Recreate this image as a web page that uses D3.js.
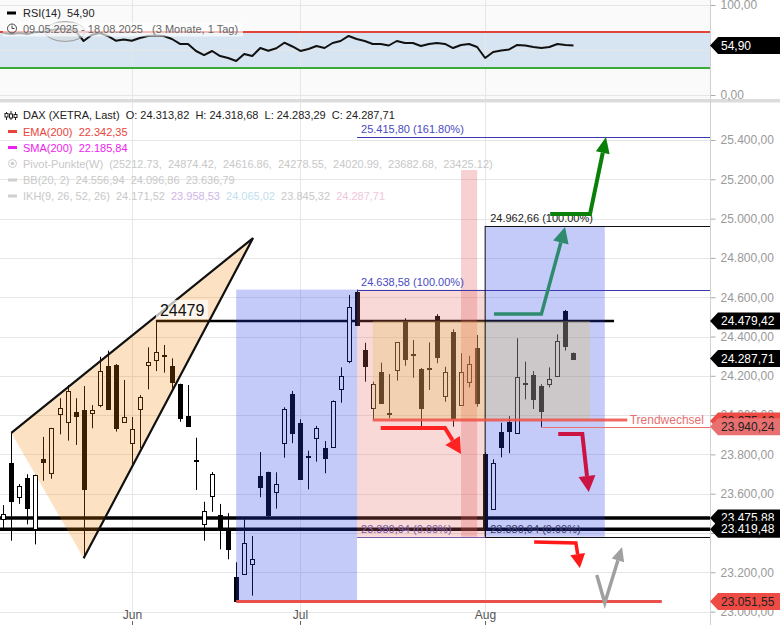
<!DOCTYPE html>
<html><head><meta charset="utf-8">
<script src="https://cdn.jsdelivr.net/npm/d3@7"></script>
<style>body{margin:0;background:#fff;}svg{display:block;font-family:"Liberation Sans",Arial,sans-serif;}text{white-space:pre;}</style>
</head><body><svg id="c" width="780" height="625"></svg>
<script>
const dates=["2025-05-09","2025-05-12","2025-05-13","2025-05-14","2025-05-15","2025-05-16","2025-05-19","2025-05-20","2025-05-21","2025-05-22","2025-05-23","2025-05-26","2025-05-27","2025-05-28","2025-05-29","2025-05-30",
"2025-06-02","2025-06-03","2025-06-04","2025-06-05","2025-06-06","2025-06-09","2025-06-10","2025-06-11","2025-06-12","2025-06-13","2025-06-16","2025-06-17","2025-06-18","2025-06-19","2025-06-20","2025-06-23","2025-06-24","2025-06-25","2025-06-26","2025-06-27","2025-06-30",
"2025-07-01","2025-07-02","2025-07-03","2025-07-04","2025-07-07","2025-07-08","2025-07-09","2025-07-10","2025-07-11","2025-07-14","2025-07-15","2025-07-16","2025-07-17","2025-07-18","2025-07-21","2025-07-22","2025-07-23","2025-07-24","2025-07-25","2025-07-28","2025-07-29","2025-07-30","2025-07-31",
"2025-08-01","2025-08-04","2025-08-05","2025-08-06","2025-08-07","2025-08-08","2025-08-11","2025-08-12","2025-08-13","2025-08-14","2025-08-15","2025-08-18"];
const open =[23471,23755,23582,23678,23422,23777,23704,24004,23963,24017,24026,24009,24050,24250,24255,23963,23860,24030,24253,24279,24306,24250,24158,23995,23772,23444,23588,23492,23415,23178,23193,23241,23690,23709,23607,23860,24106,23961,23790,23882,23831,23840,24131,24277,24626,24331,24035,24219,24012,24228,24475,24312,24235,24242,24504,24097,24421,24051,24167,24340,23800,23521,23913,23963,23908,24165,24204,24148,24157,24201,24530,24313.82];
const high =[23542,23910,23649,23699,23697,23889,23935,24086,24153,24086,24148,24051,24297,24328,24260,24179,23990,24102,24345,24479,24357,24289,24160,24153,23885,23559,23710,23548,23501,23251,23470,23385,23812,23712,23709,24040,24123,23979,23819,23945,23868,24075,24243,24611,24638.58,24368,24170,24267,24209,24372,24493,24382,24240,24370,24514,24246,24437,24315,24302,24408,23810,23775,23961,23995,24391,24272,24224,24157,24243,24411,24535,24318.68];
const low  =[23415,23361,23548,23444,23342,23666,23676,23902,23870,23848,23271,23933,24040,24030,23916,23960,23736,23831,24131,24224,24216,24136,23966,23944,23619,23361,23508,23317,23266,23051.55,23186,23081,23582,23480,23524,23783,23857,23670,23622,23763,23704,23837,24063,24264,24453,24170,23979,24058,23984,24175,24251,24190,23924,24128,24264,24068,23941,24050,24141,24043,23380.94,23519,23785,23806,23904,24080,24031,23940.24,24141,24200,24328,24283.29];
const close=[23497,23564,23639,23526,23694,23763,23933,24035,24123,23997,23625,24026,24223,24033,23933,23992,23928,24091,24272,24320,24300,24170,23984,23946,23766,23513,23700,23432,23317,23056,23348,23266,23636,23492,23648,24030,23908,23673,23785,23933,23783,24072,24201,24549,24459,24251,24157,24060,24008,24370,24287,24306,24038,24238,24294,24218,23984,24218,24259,24063,23426,23755,23839,23921,24192,24162,24080,24022,24183,24377,24353,24287.71];
const rsi=[68.9,67.8,68.9,67.8,70,70,72.2,73.3,73.3,71.1,60,66.7,68.9,65.6,60.3,61.7,60.3,63.3,65.6,66.1,65.6,62.2,56.7,56.7,48.9,44.4,48.9,43.3,41.1,37.8,45.6,43.3,52.2,49.2,51.9,58.1,53.9,48.9,51.1,54.4,52.2,57.8,60,65.6,62.2,60,56.7,56.7,55,60,57.8,57.8,54.4,56.7,57.8,56.7,52.2,55.6,56.7,53.3,41.1,47.8,49.4,50.6,55.6,55,53.3,52.2,53.3,56.7,55.6,54.9];
const priceTicks=[23000,23200,23400,23600,23800,24000,24200,24400,24600,24800,25000,25200,25400];
const rsiTicks=[0,100];
const rsiGrid=[0,50,100];
const monthNames=["Jun","Jul","Aug"];
const levels={res:24479.42,last:24287.71,trend:23975.12,trendLow:23940.24,sup1:23475.88,sup2:23419.48,low:23051.55};
const fib1=[{v:25415.80,p:"161.80%"},{v:24638.58,p:"100.00%"},{v:23380.94,p:"0.00%"}];
const fib2=[{v:24962.66,p:"100.00%"},{v:23380.94,p:"0.00%"}];

const loc=d3.formatLocale({decimal:",",thousands:".",grouping:[3],currency:["",""]});
const fmt=loc.format(",.2f");
const svg=d3.select("#c");
const AX=710;
const x=d3.scaleLinear().domain([0,88]).range([3.3,710]);
const y=d3.scaleLinear().domain([23000,25400]).range([611.6,140]);
const yr=d3.scaleLinear().domain([0,100]).range([95,5]);
const X=i=>x(i), Y=v=>y(v);

// backgrounds
svg.append("rect").attr("x",0).attr("y",0).attr("width",AX).attr("height",99).attr("fill","#fafafa");
svg.append("rect").attr("x",0).attr("y",yr(70)).attr("width",AX).attr("height",yr(30)-yr(70)).attr("fill","#d7e4f1");
svg.append("rect").attr("x",0).attr("y",99).attr("width",780).attr("height",3.5).attr("fill","#dcdcdc");

// grids
const grid=svg.append("g").attr("stroke","#e6e6e6").attr("stroke-width",1);
rsiGrid.forEach(v=>grid.append("line").attr("x1",0).attr("x2",AX).attr("y1",Math.round(yr(v))+0.5).attr("y2",Math.round(yr(v))+0.5));
priceTicks.forEach(v=>grid.append("line").attr("x1",0).attr("x2",AX).attr("y1",Math.round(Y(v))+0.5).attr("y2",Math.round(Y(v))+0.5));
const monthIdx=[];
dates.forEach((d,i)=>{ if(i>0 && d.slice(5,7)!==dates[i-1].slice(5,7)) monthIdx.push(i); });
monthIdx.forEach(i=>{const xx=Math.round(X(i))+0.5;
  grid.append("line").attr("x1",xx).attr("x2",xx).attr("y1",0).attr("y2",99);
  grid.append("line").attr("x1",xx).attr("x2",xx).attr("y1",103).attr("y2",612);});

// RSI pane
svg.append("line").attr("x1",0).attr("x2",AX).attr("y1",yr(70)).attr("y2",yr(70)).attr("stroke","#e0443a").attr("stroke-width",2);
svg.append("line").attr("x1",0).attr("x2",AX).attr("y1",yr(30)).attr("y2",yr(30)).attr("stroke","#3aab3a").attr("stroke-width",2);
svg.append("path").datum(rsi).attr("d",d3.line().x((d,i)=>X(i)).y(d=>yr(d))).attr("fill","none").attr("stroke","#111").attr("stroke-width",2).attr("stroke-linejoin","round");
svg.append("ellipse").attr("cx",X(7.7)).attr("cy",yr(70.5)).attr("rx",X(10.2)-X(7.7)).attr("ry",yr(60)-yr(71)).attr("fill","rgba(210,210,210,0.3)").attr("stroke","#999").attr("stroke-width",1);

// horizontal level lines (under overlays)
svg.append("line").attr("x1",0).attr("x2",AX).attr("y1",Y(levels.sup1)).attr("y2",Y(levels.sup1)).attr("stroke","#000").attr("stroke-width",3.5);
svg.append("line").attr("x1",0).attr("x2",AX).attr("y1",Y(levels.sup2)).attr("y2",Y(levels.sup2)).attr("stroke","#000").attr("stroke-width",3.5);
svg.append("line").attr("x1",X(19)).attr("x2",X(76.05)).attr("y1",Y(levels.res)).attr("y2",Y(levels.res)).attr("stroke","#000").attr("stroke-width",2.5);
svg.append("line").attr("x1",X(19)).attr("x2",X(19)).attr("y1",Y(levels.res)).attr("y2",Y(high[19])).attr("stroke","#000").attr("stroke-width",1);

// candles
const cg=svg.append("g");
dates.forEach((d,i)=>{
  const cx=Math.round(X(i))+0.5;
  cg.append("line").attr("x1",cx).attr("x2",cx).attr("y1",Y(high[i])).attr("y2",Y(low[i])).attr("stroke","#000").attr("stroke-width",1);
  const up=close[i]>=open[i];
  const t=Math.round(Y(Math.max(open[i],close[i]))), b=Math.round(Y(Math.min(open[i],close[i])));
  cg.append("rect").attr("x",cx-2).attr("y",t+0.5).attr("width",4).attr("height",Math.max(1,b-t))
    .attr("fill",up?"#fff":"#000").attr("stroke","#000").attr("stroke-width",1);
});

// overlays
const tri=[[1,high[1]],[31.1,24901],[10,low[10]]];
svg.append("path").attr("d",d3.line()(tri.map(p=>[X(p[0]),Y(p[1])]))+"Z").attr("fill","rgba(241,133,0,0.24)");
svg.append("path").attr("d",d3.line()([tri[0],tri[1],tri[2]].map(p=>[X(p[0]),Y(p[1])]))).attr("fill","none").attr("stroke","#111").attr("stroke-width",2.2).attr("stroke-linejoin","miter");
svg.append("rect").attr("x",X(29)).attr("y",Y(fib1[1].v)).attr("width",X(44.05)-X(29)).attr("height",Y(levels.low)-Y(fib1[1].v)).attr("fill","rgba(37,63,233,0.27)");
svg.append("rect").attr("x",X(44.05)).attr("y",Y(fib1[1].v)).attr("width",X(60)-X(44.05)).attr("height",Y(fib1[2].v)-Y(fib1[1].v)).attr("fill","rgba(230,100,100,0.25)");
svg.append("rect").attr("x",X(60)).attr("y",Y(fib2[0].v)).attr("width",X(74.9)-X(60)).attr("height",Y(fib2[1].v)-Y(fib2[0].v)).attr("fill","rgba(37,63,233,0.27)");
svg.append("rect").attr("x",X(57)).attr("y",Y(25247)).attr("width",X(59)-X(57)).attr("height",Y(fib1[2].v)-Y(25247)).attr("fill","rgba(225,90,90,0.28)");
svg.append("rect").attr("x",X(46)).attr("y",Y(levels.res)).attr("width",X(73.06)-X(46)).attr("height",Y(levels.trend)-Y(levels.res)).attr("fill","rgba(225,190,80,0.28)");

// fib lines + labels
fib1.forEach((f,k)=>{
  const yy=Math.round(Y(f.v))+0.5;
  svg.append("line").attr("x1",X(44.05)).attr("x2",k==2?X(60):AX).attr("y1",yy).attr("y2",yy).attr("stroke",k==2?"#7a5aa8":"#3a3ab0").attr("stroke-width",1);
  svg.append("text").attr("x",X(44.05)+4).attr("y",yy-5).attr("font-size",11).attr("fill",k==2?"#7a5aa8":"#4a4ac0").text(fmt(f.v)+" ("+f.p+")");
});
fib2.forEach(f=>{
  const yy=Math.round(Y(f.v))+0.5;
  svg.append("line").attr("x1",X(60)).attr("x2",AX).attr("y1",yy).attr("y2",yy).attr("stroke","#111").attr("stroke-width",1);
  svg.append("text").attr("x",X(60)+5).attr("y",yy-5).attr("font-size",11).attr("fill",f.v>24000?"#222":"#3a3a6a").text(fmt(f.v)+" ("+f.p+")");
});
svg.append("line").attr("x1",X(60)).attr("x2",X(60)).attr("y1",Y(fib2[0].v)).attr("y2",Y(fib2[1].v)).attr("stroke","#111").attr("stroke-width",1);

// red lines
svg.append("line").attr("x1",X(29)).attr("x2",X(82)).attr("y1",Y(levels.low)).attr("y2",Y(levels.low)).attr("stroke","#e8504a").attr("stroke-width",3);
svg.append("line").attr("x1",X(46)).attr("x2",X(77.7)).attr("y1",Y(levels.trend)).attr("y2",Y(levels.trend)).attr("stroke","rgba(238,80,70,0.85)").attr("stroke-width",3);
svg.append("line").attr("x1",X(66.96)).attr("x2",AX).attr("y1",Math.round(Y(levels.trendLow))+0.5).attr("y2",Math.round(Y(levels.trendLow))+0.5).attr("stroke","#e87070").attr("stroke-width",1);
svg.append("line").attr("x1",X(66.96)).attr("x2",X(66.96)).attr("y1",Y(levels.trendLow)).attr("y2",Y(low[67])).attr("stroke","#e87070").attr("stroke-width",1);
svg.append("text").attr("x",X(78)).attr("y",Y(levels.trend)+4).attr("font-size",12).attr("fill","#e87070").text("Trendwechsel");

// 24479 label
svg.append("rect").attr("x",X(19)).attr("y",Y(levels.res)-21).attr("width",52).attr("height",19).attr("fill","rgba(255,255,255,0.7)");
svg.append("text").attr("x",X(19)+4).attr("y",Y(levels.res)-5).attr("font-size",16).attr("fill","#111").text("24479");

// arrows
function arrow(pts,color,w,hl,hw){
  const p=pts.map(d=>[X(d[0]),Y(d[1])]);
  const n=p.length,a=p[n-2],b=p[n-1];
  const dx=b[0]-a[0],dy=b[1]-a[1],L=Math.hypot(dx,dy),ux=dx/L,uy=dy/L;
  const base=[b[0]-ux*hl,b[1]-uy*hl];
  svg.append("path").attr("d",d3.line()(p.slice(0,n-1).concat([base]))).attr("fill","none").attr("stroke",color).attr("stroke-width",w).attr("stroke-linejoin","miter");
  svg.append("path").attr("d",`M${b[0]},${b[1]}L${base[0]-uy*hw/2},${base[1]+ux*hw/2}L${base[0]+uy*hw/2},${base[1]-ux*hw/2}Z`).attr("fill",color);
}
arrow([[61.1,24514],[67.0,24514],[69.95,24957]],"#2e8b6e",3.5,16,16);
arrow([[68.1,25023],[73.06,25023],[75.05,25415]],"#0a800a",4,16,14);
arrow([[47,23934],[55,23934],[57,23802]],"#ff2222",4,16,17);
arrow([[69.1,23904],[72.1,23904],[72.9,23609]],"#cc1444",4,16,17);
arrow([[66.1,23354],[71.3,23349],[71.8,23222]],"#ff1a1a",3.5,14,15);
arrow([[73.9,23186],[74.9,23044],[77.05,23329]],"#a0a0a0",3.5,14,13);

// axes
svg.append("rect").attr("x",AX).attr("y",0).attr("width",70).attr("height",625).attr("fill","#fff");
svg.append("rect").attr("x",AX).attr("y",99).attr("width",70).attr("height",3.5).attr("fill","#dcdcdc");
const pAx=svg.append("g").attr("transform",`translate(${AX+0.5},0)`).call(d3.axisRight(y).tickValues(priceTicks).tickFormat(fmt).tickSize(5).tickPadding(5));
const rAx=svg.append("g").attr("transform",`translate(${AX+0.5},0)`).call(d3.axisRight(yr).tickValues(rsiTicks).tickFormat(fmt).tickSize(5).tickPadding(5));
[pAx,rAx].forEach(g=>{g.select(".domain").remove();g.selectAll("line").attr("stroke","#aaa");g.selectAll("text").attr("fill","#999").attr("font-size",12).attr("font-family","Liberation Sans, Arial, sans-serif");});
svg.append("line").attr("x1",AX+0.5).attr("x2",AX+0.5).attr("y1",0).attr("y2",625).attr("stroke","#d0d0d0");
monthIdx.forEach((i,k)=>{
  const xx=Math.round(X(i))+0.5;
  svg.append("text").attr("x",xx).attr("y",619).attr("text-anchor","middle").attr("font-size",12).attr("fill","#555").text(monthNames[k]);
  svg.append("line").attr("x1",xx).attr("x2",xx).attr("y1",621).attr("y2",625).attr("stroke","#666");
});

// right price labels
function plabel(yy,text,bg,fg){
  const g=svg.append("g").attr("transform",`translate(0,${yy})`);
  g.append("path").attr("d","M710,0L718,-8.5L780,-8.5L780,8.5L718,8.5Z").attr("fill",bg);
  g.append("text").attr("x",721).attr("y",4.3).attr("font-size",12).attr("fill",fg).text(text);
}
plabel(yr(rsi[rsi.length-1]),fmt(rsi[rsi.length-1]),"#000","#fff");
plabel(Y(levels.res),fmt(levels.res),"#000","#fff");
plabel(Y(levels.last),fmt(levels.last),"#000","#fff");
plabel(Y(levels.trend)+1,fmt(levels.trend),"#ee4b45","#222");
plabel(Y(levels.trendLow),fmt(levels.trendLow),"#e87070","#222");
plabel(Y(levels.sup1),fmt(levels.sup1),"#000","#fff");
plabel(Y(levels.sup2),fmt(levels.sup2),"#000","#fff");
plabel(Y(levels.low),fmt(levels.low),"#ee4b45","#222");

// RSI legend
svg.append("rect").attr("x",3).attr("y",22.5).attr("width",240).attr("height",14).attr("fill","rgba(255,255,255,0.65)");
svg.append("rect").attr("x",7).attr("y",11.5).attr("width",9).attr("height",3).attr("fill","#000");
svg.append("text").attr("x",23).attr("y",17).attr("font-size",11).attr("fill","#222").text("RSI(14)  54,90");
svg.append("circle").attr("cx",12).attr("cy",28.5).attr("r",4.5).attr("fill","none").attr("stroke","#444").attr("stroke-width",1);
svg.append("path").attr("d","M12,25.5V28.5H14.5").attr("fill","none").attr("stroke","#444").attr("stroke-width",1);
svg.append("text").attr("x",23).attr("y",33).attr("font-size",11).attr("fill","#666").text("09.05.2025 - 18.08.2025   (3 Monate, 1 Tag)");

// main legend
const lg=svg.append("g");
[[6.5,112,120,113.5,117],[11,111,120,114,118],[15.5,112,120,114.5,117.5]].forEach(c=>{
  lg.append("line").attr("x1",c[0]).attr("x2",c[0]).attr("y1",c[1]).attr("y2",c[2]).attr("stroke","#222");
  lg.append("rect").attr("x",c[0]-1.5).attr("y",c[3]).attr("width",3).attr("height",c[4]-c[3]).attr("fill","#fff").attr("stroke","#222");
});
lg.append("text").attr("x",23).attr("y",119).attr("font-size",11).attr("fill","#222").text("DAX (XETRA, Last)  O: 24.313,82  H: 24.318,68  L: 24.283,29  C: 24.287,71");
lg.append("rect").attr("x",8).attr("y",130).attr("width",9).attr("height",3).attr("fill","#e8453c");
lg.append("text").attr("x",23).attr("y",135.5).attr("font-size",11).attr("fill","#e8453c").text("EMA(200)  22.342,35");
lg.append("rect").attr("x",8).attr("y",146).attr("width",9).attr("height",3).attr("fill","#ee22ee");
lg.append("text").attr("x",23).attr("y",151.5).attr("font-size",11).attr("fill","#ee22ee").text("SMA(200)  22.185,84");
lg.append("circle").attr("cx",12.5).attr("cy",163.5).attr("r",4).attr("fill","none").attr("stroke","#ccc");
lg.append("circle").attr("cx",12.5).attr("cy",163.5).attr("r",1.8).attr("fill","#ccc");
lg.append("text").attr("x",23).attr("y",167.5).attr("font-size",11).attr("fill","#c8c8c8").text("Pivot-Punkte(W)  (25212.73,  24874.42,  24616.86,  24278.55,  24020.99,  23682.68,  23425.12)");
lg.append("rect").attr("x",8).attr("y",178.5).attr("width",9).attr("height",3).attr("fill","#d0d0d0");
lg.append("text").attr("x",23).attr("y",184).attr("font-size",11).attr("fill","#c8c8c8").text("BB(20, 2)  24.556,94  24.096,86  23.636,79");
lg.append("rect").attr("x",8).attr("y",194.5).attr("width",9).attr("height",3).attr("fill","#d0d0d0");
const ikh=lg.append("text").attr("x",23).attr("y",200).attr("font-size",11);
[["IKH(9, 26, 52, 26)  24.171,52  ","#c8c8c8"],["23.958,53  ","#cdb6e6"],["24.065,02  ","#bfe0ee"],["23.845,32  ","#c8c8c8"],["24.287,71","#efc6d8"]].forEach(s=>ikh.append("tspan").attr("fill",s[1]).text(s[0]));
</script></body></html>
